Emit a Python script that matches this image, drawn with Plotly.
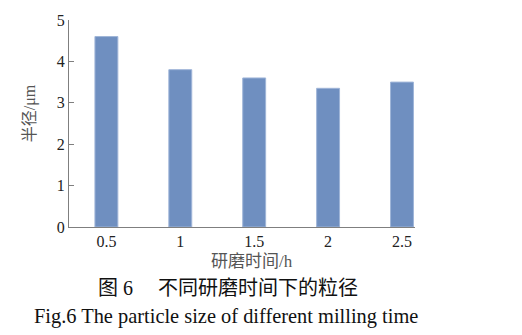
import plotly.graph_objects as go

# Milling time (h) and resulting particle radius (μm)
milling_time = [0.5, 1, 1.5, 2, 2.5]
radius_um = [4.6, 3.8, 3.6, 3.35, 3.5]
tick_labels = ["0.5", "1", "1.5", "2", "2.5"]

W, H = 522, 335
ML, MR, MT, MB = 69, 107, 14, 108
PW, PH = W - ML - MR, H - MT - MB


def px(x):
    return (x - ML) / PW


def py(y):
    return (H - MB - y) / PH


serif = "Liberation Serif, Times New Roman, serif"
cjk = "Liberation Serif, Noto Sans CJK SC, sans-serif"


def label(text, x, y, size, color, angle=0, family=cjk):
    return dict(text=text, x=px(x), y=py(y), xref="paper", yref="paper",
                xanchor="center", yanchor="middle", showarrow=False,
                textangle=angle, font=dict(family=family, size=size, color=color))


fig = go.Figure(
    go.Bar(
        x=milling_time,
        y=radius_um,
        width=0.155,
        marker=dict(color="#6f8fc0", line=dict(color="#9fb5d8", width=1)),
    )
)

fig.update_layout(
    width=W,
    height=H,
    margin=dict(l=ML, r=MR, t=MT, b=MB),
    paper_bgcolor="white",
    plot_bgcolor="white",
    showlegend=False,
    font=dict(family=serif, size=16, color="#222"),
    xaxis=dict(
        range=[0.247, 2.588],
        tickvals=milling_time,
        ticktext=tick_labels,
        showgrid=False,
        zeroline=False,
        showline=True,
        linecolor="#7f7f7f",
        linewidth=1,
        ticks="",
        ticklabelstandoff=0,
        tickfont=dict(family=serif, size=16, color="#222"),
    ),
    yaxis=dict(
        range=[0, 5],
        dtick=1,
        showgrid=False,
        zeroline=False,
        showline=True,
        linecolor="#7f7f7f",
        linewidth=1,
        ticks="inside",
        ticklen=5,
        tickcolor="#7f7f7f",
        tickfont=dict(family=serif, size=16, color="#222"),
    ),
    annotations=[
        label("半径/μm", 30, 110, 16, "#555", angle=-90),
        label("研磨时间/h", 252, 263, 17, "#555"),
        label("图 6　 不同研磨时间下的粒径", 228, 290, 20, "#111"),
        label("Fig.6 The particle size of different milling time", 226, 319,
              20.4, "#111", family=serif),
    ],
)

fig.write_html("out.html")
